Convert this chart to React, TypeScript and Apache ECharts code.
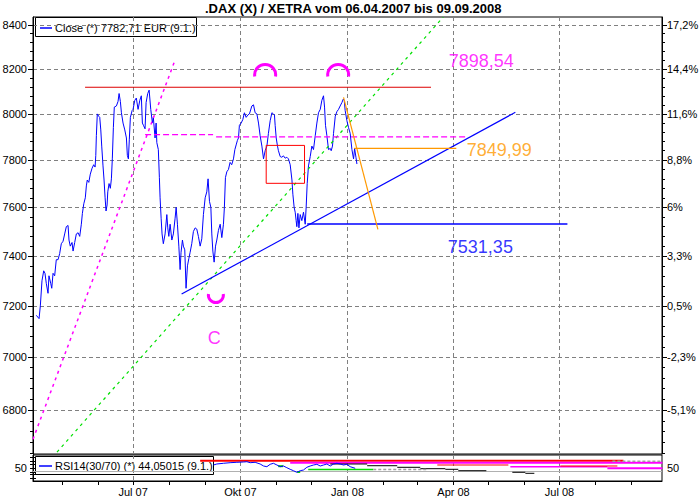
import React, { useEffect, useRef } from "react";
import * as echarts from "echarts";

// x values are calendar days counted from 06.04.2007 (day 0)
const closeDays = [
  2.8, 5.2, 6.3, 7.7, 9.2, 10.3, 11.4, 12.9, 13.7, 15.2, 16.1, 17.2, 18.6, 20.0, 21.5, 22.9, 24.3, 25.8, 27.2, 28.6,
  30.1, 30.9, 32.0, 33.5, 34.4, 35.8, 37.2, 38.7, 40.1, 41.5, 42.4, 43.6, 44.9, 45.8, 46.6, 47.9, 49.2, 50.7, 52.1, 53.3,
  53.9, 54.4, 55.2, 56.4, 57.3, 58.2, 59.0, 60.1, 61.0, 61.9, 62.7, 63.6, 64.2, 65.3, 66.4, 67.3, 68.1, 69.0, 69.8, 71.6,
  73.0, 73.9, 75.0, 75.9, 77.3, 78.8, 80.2, 81.0, 81.9, 82.7, 83.6, 85.1, 85.9, 87.4, 88.7, 90.2, 91.7, 93.0, 93.9, 94.8,
  96.2, 97.1, 98.5, 99.7, 101.1, 102.5, 103.3, 104.8, 105.7, 106.3, 107.6, 108.5, 109.1, 110.0, 110.8, 111.9, 113.4, 114.9, 115.7, 116.6,
  117.7, 119.2, 120.5, 122.0, 122.9, 124.0, 125.2, 126.3, 127.1, 128.3, 129.1, 130.3, 131.4, 132.6, 133.8, 134.9, 136.3, 137.7, 139.2, 140.6,
  142.0, 143.5, 144.9, 146.3, 147.8, 149.2, 150.3, 151.5, 152.7, 153.5, 154.4, 155.5, 156.7, 157.8, 159.2, 160.7, 162.1, 163.5, 164.3, 165.2,
  166.4, 167.8, 169.2, 170.6, 172.1, 173.3, 174.4, 175.5, 176.4, 177.2, 178.7, 180.1, 181.5, 183.0, 184.4, 185.8, 187.9, 189.3, 190.7, 192.2,
  193.6, 195.0, 196.5, 197.9, 199.3, 200.8, 202.1, 203.6, 205.1, 206.4, 207.3, 207.9, 208.8, 209.9, 210.7, 212.2, 213.6, 215.0, 216.5, 217.9,
  219.3, 220.8, 222.3, 223.1, 224.2, 225.1, 225.9, 226.5, 227.4, 228.3, 229.4, 230.8, 232.2, 233.7, 234.5, 235.4, 236.5, 238.0, 239.4, 240.8,
  242.3, 243.7, 245.1, 246.6, 248.0, 249.4, 250.3, 251.1, 252.3, 253.7, 255.2, 256.0, 257.1, 258.0, 259.5, 260.9, 262.3, 263.7, 265.2, 266.3,
  267.2, 268.0, 269.5, 270.9, 272.3, 273.8, 275.2, 276.1, 277.3, 278.1,
];
const closeValues = [
  7163, 7150, 7200, 7300, 7340, 7330, 7290, 7250, 7320, 7290, 7270, 7330, 7320, 7385, 7385, 7410, 7450, 7460, 7490, 7520,
  7525, 7465, 7440, 7455, 7420, 7455, 7490, 7495, 7480, 7530, 7575, 7615, 7640, 7690, 7715, 7705, 7740, 7765, 7780, 7770,
  7820, 7905, 8000, 7990, 7985, 7930, 7860, 7775, 7715, 7640, 7585, 7610, 7665, 7700, 7680, 7720, 7805, 7940, 8030, 8035,
  8055, 8090, 8055, 8005, 7960, 7930, 7895, 7820, 7805, 7890, 7985, 8015, 8020, 8060, 8070, 8020, 8060, 8080, 7960, 7950,
  7935, 8050, 8090, 8105, 8020, 7960, 7985, 7895, 7960, 7875, 7845, 7725, 7640, 7555, 7490, 7450, 7490, 7570, 7515, 7480,
  7530, 7465, 7490, 7555, 7600, 7530, 7440, 7345, 7415, 7465, 7440, 7425, 7270, 7360, 7390, 7415, 7450, 7500, 7515, 7510,
  7480, 7440, 7470, 7570, 7640, 7665, 7720, 7625, 7600, 7490, 7420, 7375, 7440, 7465, 7505, 7530, 7475, 7530, 7600, 7725,
  7750, 7760, 7790, 7780, 7805, 7845, 7865, 7885, 7895, 7950, 7960, 7975, 8005, 7985, 7995, 8000, 8035, 8040, 8005, 8000,
  7960, 7905, 7860, 7805, 7840, 7860, 7915, 7970, 8005, 8000, 7995, 7950, 7895, 7860, 7840, 7815, 7812, 7818, 7808, 7812,
  7805, 7780, 7715, 7655, 7600, 7580, 7545, 7520, 7575, 7515, 7570, 7545, 7580, 7530, 7600, 7700, 7775, 7815, 7860, 7845,
  7905, 7960, 8005, 8020, 8060, 8080, 8030, 7950, 7905, 7845, 7850, 7840, 7860, 7915, 7990, 8010, 8020, 8035, 8050, 8065,
  8060, 8015, 7970, 7940, 7915, 7845, 7805, 7850, 7810, 7783,
];

const rsiDays = [
  154.9, 157.8, 163.5, 169.2, 175.0, 180.7, 183.6, 186.4, 190.7, 195.0, 197.9, 200.8, 203.6, 206.4, 209.4, 212.2, 215.0, 217.9, 220.8, 223.6,
  226.5, 229.4, 232.2, 235.1, 238.0, 240.8, 243.7, 246.6, 249.4, 252.3, 255.2, 258.0, 260.9, 263.7, 266.6, 269.5, 272.3, 276.6,
];
const rsiValues = [
  61.5, 65.4, 68.1, 70.4, 71.9, 73.1, 74.2, 70.4, 71.9, 65.4, 57.7, 55.0, 64.2, 68.1, 61.5, 55.0, 57.7, 51.2, 45.0, 39.6,
  33.5, 39.6, 42.3, 52.7, 57.7, 61.5, 64.2, 57.7, 61.5, 65.4, 57.7, 65.4, 68.1, 65.4, 61.5, 64.2, 55.0, 48.8,
];

// price scale (logarithmic)
const priceLevels = [6800, 7000, 7200, 7400, 7600, 7800, 8000, 8200, 8400];
const pctLabels = ["-5,1%", "-2,3%", "0,5%", "3,3%", "6%", "8,8%", "11,6%", "14,4%", "17,2%"];
const PRICE_MIN = 6638;
const PRICE_MAX = 8437;
const MINOR_STEP = 40;

const quarterDays = [86, 178, 270, 361, 452];
const quarterLabels = ["Jul 07", "Okt 07", "Jan 08", "Apr 08", "Jul 08"];
const monthDays = [25, 56, 86, 117, 148, 178, 209, 239, 270, 301, 330, 361, 391, 422, 452, 483, 514];
const DAY_MAX = 540;

const rsiLabelLevels = [50];
const rsiTickLevels = [10, 25, 35, 50, 65, 75, 90];

// drawn analysis lines (day, price)
const resistanceLine = [[44.7, 8118], [341.7, 8118]];
const magentaDashA = [[96.2, 7910], [154.6, 7910]];
const magentaDashB = [[157.2, 7900], [371.1, 7900]];
const magentaTrend = [[0, 6692], [121.4, 8232]];
const greenTrend = [[20.6, 6645], [352.2, 8437]];
const blueTrend = [[127.6, 7247], [414.1, 8007]];
const supportLine = [[235.4, 7531.35], [458.8, 7531.35]];
const orangeLevel = [[275.8, 7849.99], [363.4, 7849.99]];
const orangeDrop = [[266.6, 8073], [296.1, 7509]];
const redBox = [[200.2, 7701], [233.1, 7863]];
const topArcs = [[199.3, 8173], [262.0, 8173]];
const bottomArcs = [[157.0, 7243]];
const priceNotes: [number, number, string][] = [
  [356.5, 8236, "7898,54"],
  [372.0, 7843, "7849,99"],
  [355.7, 7438, "7531,35"],
  [149.5, 7074, "C"],
];
const noteColors = ["#ff00ff", "#ff9900", "#0000ff", "#ff00ff"];

// other indicator traces in the RSI pane (day, value)
const rsiTraces: { pts: number[][]; color: string; width: number; dash?: number[] }[] = [
  { pts: [[0, 36.5], [DAY_MAX, 36.5]], color: "#b0b0b0", width: 1 },
  { pts: [[143.5, 77.7], [506.9, 77.7]], color: "#ff0000", width: 2 },
  { pts: [[220.8, 70.4], [540.4, 70.4]], color: "#ff00ff", width: 2 },
  { pts: [[347.1, 61.5], [408.1, 61.5]], color: "#ff0000", width: 1 },
  { pts: [[409.8, 55.0], [493.1, 55.0]], color: "#ff00ff", width: 1.5 },
  { pts: [[452.7, 57.7], [501.7, 57.7]], color: "#ff0000", width: 1 },
  { pts: [[493.1, 48.8], [540.4, 48.8]], color: "#ff00ff", width: 2 },
  { pts: [[497.4, 75.8], [540.4, 75.8]], color: "#a0a0a0", width: 1.5, dash: [3, 2] },
  { pts: [[255.2, 65.4], [286.9, 65.4]], color: "#000000", width: 1 },
  { pts: [[286.9, 58.8], [312.7, 58.8]], color: "#000000", width: 1 },
  { pts: [[312.7, 52.7], [332.5, 52.7]], color: "#000000", width: 1 },
  { pts: [[332.5, 47.3], [354.0, 47.3]], color: "#000000", width: 1 },
  { pts: [[354.0, 45.0], [365.1, 45.0]], color: "#000000", width: 1 },
  { pts: [[365.1, 39.6], [389.2, 39.6]], color: "#000000", width: 1 },
  { pts: [[411.5, 33.5], [422.7, 33.5]], color: "#000000", width: 1 },
  { pts: [[422.7, 29.6], [430.4, 29.6]], color: "#000000", width: 1 },
  { pts: [[236.3, 44.2], [292.1, 44.2]], color: "#00dd00", width: 1.5 },
  { pts: [[292.1, 44.2], [338.5, 44.2]], color: "#a0a0a0", width: 1.5, dash: [3, 2] },
  { pts: [[226.8, 34.6], [229.4, 34.6]], color: "#00dd00", width: 2 },
  { pts: [[210.5, 57.0], [214.8, 57.0]], color: "#00dd00", width: 2 },
];

const FONT = "'Liberation Sans', Arial, sans-serif";
const LN = Math.log;
const GRID_DASH = { color: "#808080", type: [4, 3] as number[], width: 1 };

function priceLine(points: number[][], color: string, width: number, dash?: number[]) {
  return {
    type: "line",
    xAxisIndex: 0,
    yAxisIndex: 0,
    data: points.map((p) => [p[0], LN(p[1])]),
    symbol: "none",
    silent: true,
    lineStyle: { color, width, type: dash || "solid" },
    z: 3,
  };
}

function nearestIndex(levels: number[], v: number) {
  let best = 0;
  for (let i = 1; i < levels.length; i++) {
    if (Math.abs(LN(levels[i]) - v) < Math.abs(LN(levels[best]) - v)) best = i;
  }
  return best;
}

function buildOption() {
  const majors = priceLevels.map(LN);
  const minors: number[] = [];
  for (let v = 6640; v <= PRICE_MAX; v += MINOR_STEP) minors.push(LN(v));

  const axisText = { fontSize: 11, color: "#000", fontFamily: FONT };
  const blackLine = { show: true, lineStyle: { color: "#000", width: 1 } };

  const boxPts = [
    [redBox[0][0], redBox[0][1]],
    [redBox[1][0], redBox[0][1]],
    [redBox[1][0], redBox[1][1]],
    [redBox[0][0], redBox[1][1]],
    [redBox[0][0], redBox[0][1]],
  ];

  const arcSeries = (pts: number[][], r: number, top: boolean) => ({
    type: "custom",
    xAxisIndex: 0,
    yAxisIndex: 0,
    silent: true,
    z: 4,
    data: pts.map((p) => [p[0], LN(p[1])]),
    renderItem: (params: any, api: any) => {
      const c = api.coord([api.value(0), api.value(1)]);
      const ext = 0.15;
      return {
        type: "arc",
        shape: {
          cx: c[0],
          cy: c[1],
          r,
          startAngle: top ? Math.PI - ext : -ext,
          endAngle: top ? 2 * Math.PI + ext : Math.PI + ext,
          clockwise: true,
        },
        style: { stroke: "#ff00ff", lineWidth: 3, fill: "none" },
      };
    },
  });

  return {
    animation: false,
    backgroundColor: "#ffffff",
    title: {
      text: ".DAX (X) / XETRA vom 06.04.2007 bis 09.09.2008",
      left: 205,
      top: 2,
      padding: 0,
      textStyle: { fontSize: 13, fontWeight: "bold", fontFamily: FONT, color: "#000" },
    },
    grid: [
      { left: 33, right: 38, top: 17, height: 437, show: true, borderColor: "#000", borderWidth: 1, backgroundColor: "#fff", outerBoundsMode: "none" },
      { left: 33, right: 38, top: 455, height: 26, show: true, borderColor: "#000", borderWidth: 1, backgroundColor: "#fff", outerBoundsMode: "none" },
    ],
    xAxis: [
      {
        gridIndex: 0, type: "value", min: 0, max: DAY_MAX, position: "bottom",
        axisLine: { show: false }, axisTick: { show: false, customValues: quarterDays },
        axisLabel: { show: false }, splitLine: { show: true, lineStyle: GRID_DASH },
      },
      {
        gridIndex: 1, type: "value", min: 0, max: DAY_MAX, position: "bottom",
        axisLine: blackLine,
        axisTick: { show: true, customValues: monthDays, length: 4, lineStyle: { color: "#000" } },
        axisLabel: {
          show: true, customValues: quarterDays, margin: 5, ...axisText,
          formatter: (v: number) => quarterLabels[quarterDays.indexOf(Math.round(v))] || "",
        },
        splitLine: { show: false },
      },
      {
        gridIndex: 1, type: "value", min: 0, max: DAY_MAX, position: "bottom",
        axisLine: { show: false }, axisTick: { show: false, customValues: quarterDays },
        axisLabel: { show: false }, splitLine: { show: true, lineStyle: GRID_DASH },
      },
    ],
    yAxis: [
      {
        gridIndex: 0, type: "value", min: LN(PRICE_MIN), max: LN(PRICE_MAX), position: "left",
        axisLine: blackLine,
        axisTick: { show: true, customValues: majors, length: 5, lineStyle: { color: "#000" } },
        axisLabel: {
          show: true, customValues: majors, margin: 6, ...axisText,
          formatter: (v: number) => String(priceLevels[nearestIndex(priceLevels, v)]),
        },
        splitLine: { show: true, lineStyle: GRID_DASH },
      },
      {
        gridIndex: 0, type: "value", min: LN(PRICE_MIN), max: LN(PRICE_MAX), position: "left",
        axisLine: { show: false },
        axisTick: { show: true, customValues: minors, length: 3, lineStyle: { color: "#000" } },
        axisLabel: { show: false }, splitLine: { show: false },
      },
      {
        gridIndex: 0, type: "value", min: LN(PRICE_MIN), max: LN(PRICE_MAX), position: "right",
        axisLine: blackLine,
        axisTick: { show: true, customValues: majors, length: 5, lineStyle: { color: "#000" } },
        axisLabel: {
          show: true, customValues: majors, margin: 5, ...axisText,
          formatter: (v: number) => pctLabels[nearestIndex(priceLevels, v)],
        },
        splitLine: { show: false },
      },
      {
        gridIndex: 0, type: "value", min: LN(PRICE_MIN), max: LN(PRICE_MAX), position: "right",
        axisLine: { show: false },
        axisTick: { show: true, customValues: minors, length: 3, lineStyle: { color: "#000" } },
        axisLabel: { show: false }, splitLine: { show: false },
      },
      {
        gridIndex: 1, type: "value", min: 0, max: 100, position: "left",
        axisLine: blackLine,
        axisTick: { show: true, customValues: rsiTickLevels, length: 3, lineStyle: { color: "#000" } },
        axisLabel: { show: true, customValues: rsiLabelLevels, margin: 6, ...axisText },
        splitLine: { show: false },
      },
      {
        gridIndex: 1, type: "value", min: 0, max: 100, position: "right",
        axisLine: blackLine,
        axisTick: { show: true, customValues: rsiTickLevels, length: 3, lineStyle: { color: "#000" } },
        axisLabel: { show: true, customValues: rsiLabelLevels, margin: 5, ...axisText },
        splitLine: { show: false },
      },
    ],
    series: [
      {
        type: "line", name: "Close", xAxisIndex: 0, yAxisIndex: 0,
        data: closeDays.map((d, i) => [d, LN(closeValues[i])]),
        symbol: "none", silent: true, z: 2,
        lineStyle: { color: "#0000ff", width: 1 },
      },
      priceLine(magentaTrend, "#ff00ff", 1.5, [3, 4]),
      priceLine(greenTrend, "#00e000", 1.2, [3, 4]),
      priceLine(resistanceLine, "#dd0000", 1.2),
      priceLine(magentaDashA, "#ff00ff", 1.2, [6, 3]),
      priceLine(magentaDashB, "#ff00ff", 1.2, [6, 3]),
      priceLine(boxPts, "#ff0000", 1),
      priceLine(blueTrend, "#0000ff", 1.2),
      priceLine(supportLine, "#0000ff", 1.5),
      priceLine(orangeLevel, "#ff9900", 1.2),
      priceLine(orangeDrop, "#ff9900", 1.2),
      arcSeries(topArcs, 10.5, true),
      arcSeries(bottomArcs, 7.5, false),
      ...priceNotes.map((n, i) => ({
        type: "scatter", xAxisIndex: 0, yAxisIndex: 0, silent: true, z: 5,
        data: [[n[0], LN(n[1])]],
        symbolSize: 1,
        itemStyle: { color: "transparent" },
        label: {
          show: true, position: "right", distance: 0, formatter: n[2],
          fontSize: 18, fontFamily: FONT, color: noteColors[i],
        },
      })),
      ...rsiTraces.map((t) => ({
        type: "line", xAxisIndex: 1, yAxisIndex: 4, silent: true, symbol: "none", z: 2,
        data: t.pts,
        lineStyle: { color: t.color, width: t.width, type: t.dash || "solid" },
      })),
      {
        type: "line", name: "RSI", xAxisIndex: 1, yAxisIndex: 4,
        data: rsiDays.map((d, i) => [d, rsiValues[i]]),
        symbol: "none", silent: true, z: 3,
        lineStyle: { color: "#0000ff", width: 1 },
      },
    ],
    graphic: [
      {
        type: "group", z: 100,
        children: [
          { type: "rect", shape: { x: 35.5, y: 17.5, width: 161, height: 19 }, style: { fill: "#fff", stroke: "#000", lineWidth: 1 } },
          { type: "line", shape: { x1: 40, y1: 28, x2: 52, y2: 28 }, style: { stroke: "#0000ff", lineWidth: 1.5 } },
          { type: "text", x: 55, y: 27.5, style: { text: "Close (*) 7782,71 EUR (9.1.)", fontSize: 11, fontFamily: FONT, fill: "#000", verticalAlign: "middle" } },
          { type: "rect", shape: { x: 35.5, y: 456.5, width: 178, height: 18 }, style: { fill: "#fff", stroke: "#000", lineWidth: 1 } },
          { type: "line", shape: { x1: 39, y1: 466, x2: 52, y2: 466 }, style: { stroke: "#0000ff", lineWidth: 1.5 } },
          { type: "text", x: 55, y: 466, style: { text: "RSI14(30/70) (*) 44,05015 (9.1.)", fontSize: 11, fontFamily: FONT, fill: "#000", verticalAlign: "middle" } },
        ],
      },
    ],
  };
}

export default function App() {
  const ref = useRef<HTMLDivElement>(null);
  useEffect(() => {
    if (!ref.current) return;
    const chart = echarts.init(ref.current, null, { renderer: "svg" });
    chart.setOption(buildOption() as any);
    return () => chart.dispose();
  }, []);
  return (
    <div
      ref={ref}
      style={{ position: "fixed", left: 0, top: 0, width: 700, height: 500, background: "#fff" }}
    />
  );
}
